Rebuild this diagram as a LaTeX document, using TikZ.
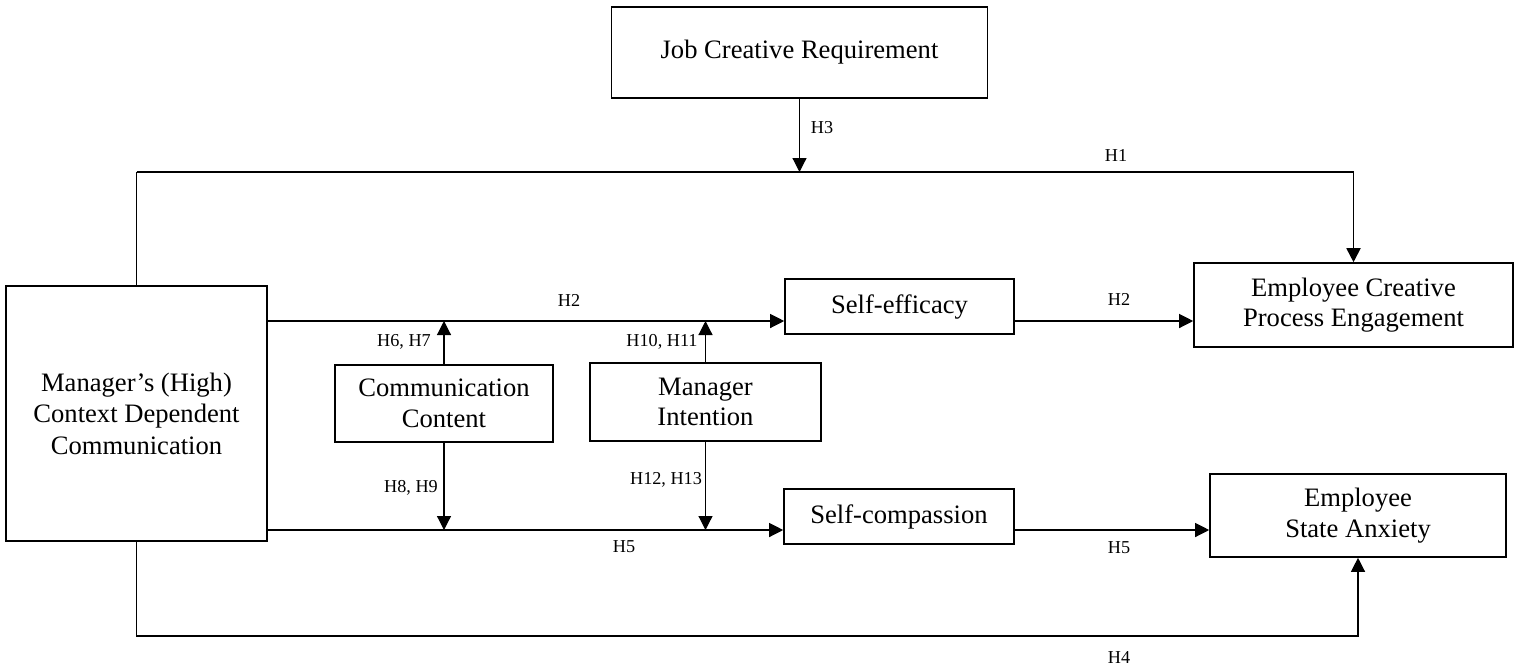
\documentclass[tikz,border=0pt]{standalone}
\usepackage{fontspec}
\setmainfont{Liberation Serif}
\usetikzlibrary{arrows.meta}

\begin{document}
\begin{tikzpicture}[
    x=0.5pt, y=-0.5pt,
    box/.style   = {draw, line width=0.8pt, align=center, inner sep=0pt,
                    font=\fontsize{13.3}{15.2}\selectfont},
    conn/.style  = {line width=0.6pt},
    arr/.style   = {conn, -{Triangle[length=7pt, width=7pt]}},
    hyp/.style   = {font=\fontsize{9.1}{11}\selectfont, inner sep=0pt},
]
\useasboundingbox (0,0) rectangle (1520,670);

% ============================================================
%  CONSTRUCTS
% ============================================================
\node[box, minimum width=188pt, minimum height=45.5pt] (job) at (799.5, 52.5)
    {Job Creative Requirement};
\node[box, minimum width=130.5pt, minimum height=127.5pt,
      font=\fontsize{13.3}{15.8}\selectfont] (mgr) at (136.5, 413.5)
    {Manager’s (High)\\Context Dependent\\Communication};
\node[box, minimum width=109pt, minimum height=38.5pt] (content) at (444, 403.5)
    {Communication\\Content};
\node[box, minimum width=115.5pt, minimum height=39pt] (intent) at (705.5, 402)
    {Manager\\Intention};
\node[box, minimum width=114.5pt, minimum height=27.5pt] (selfeff) at (899.5, 306.5)
    {Self-efficacy};
\node[box, minimum width=115pt, minimum height=27.5pt] (selfcomp) at (899, 516.5)
    {Self-compassion};
\node[box, minimum width=159.5pt, minimum height=42pt] (ecpe) at (1353.5, 305)
    {Employee Creative\\Process Engagement};
\node[box, minimum width=148pt, minimum height=41.5pt] (esa) at (1358, 515.5)
    {Employee\\State Anxiety};

% ============================================================
%  ROUTING LEVELS
% ============================================================
\coordinate (h1) at (0, 172);
\coordinate (h2) at (0, 321);
\coordinate (h5) at (0, 530);
\coordinate (h4) at (0, 636);

% ============================================================
%  PATHS
% ============================================================
% direct effects
\draw[conn] (mgr.north) -- (mgr.north |- h1);
\draw[arr, line width=0.9pt] (mgr.north |- h1) -| (ecpe.north);
\draw[arr] (mgr.south) -- (mgr.south |- h4) -| (esa.south);

% self-efficacy route
\draw[arr] (mgr.east |- h2) -- (selfeff.west |- h2);
\draw[arr] (selfeff.east |- h2) -- (ecpe.west |- h2);

% self-compassion route
\draw[arr] (mgr.east |- h5) -- (selfcomp.west |- h5);
\draw[arr] (selfcomp.east |- h5) -- (esa.west |- h5);

% moderators
\draw[arr] (job.south) -- (job.south |- h1);
\draw[arr] (content.north) -- (content.north |- h2);
\draw[arr] (content.south) -- (content.south |- h5);
\draw[arr] (intent.north) -- (intent.north |- h2);
\draw[arr] (intent.south) -- (intent.south |- h5);

% ============================================================
%  HYPOTHESIS LABELS
% ============================================================
\node[hyp] (lh3)   at (822, 128)  {H3};
\node[hyp] (lh1)   at (1116, 155) {H1};
\node[hyp] (lh2a)  at (569, 300)  {H2};
\node[hyp] (lh2b)  at (1119, 299) {H2};
\node[hyp] (lh67)  at (404, 342)  {H6, H7};
\node[hyp] (lh1011) at (662, 342) {H10, H11};
\node[hyp] (lh89)  at (411, 488)  {H8, H9};
\node[hyp] (lh1213) at (666, 480) {H12, H13};
\node[hyp] (lh5a)  at (624, 547)  {H5};
\node[hyp] (lh5b)  at (1119, 548) {H5};
\node[hyp] (lh4)   at (1119, 657) {H4};

\end{tikzpicture}
\end{document}
